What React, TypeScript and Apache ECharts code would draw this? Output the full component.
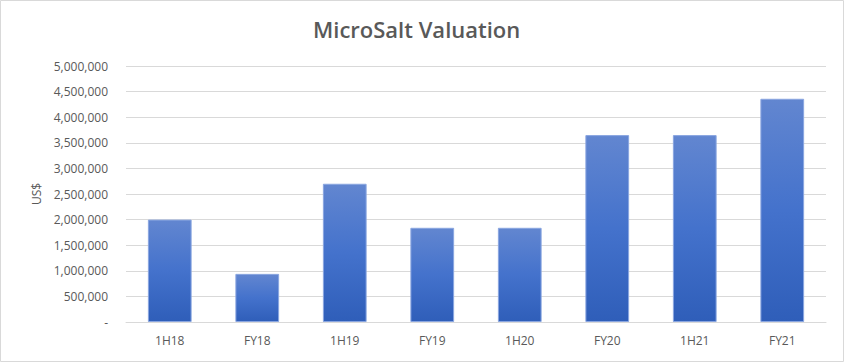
import React, { useEffect, useRef } from "react";
import * as echarts from "echarts";

const categories = ["1H18", "FY18", "1H19", "FY19", "1H20", "FY20", "1H21", "FY21"];
const valuation = [2000000, 940000, 2700000, 1840000, 1840000, 3650000, 3650000, 4360000];
const titleText = "MicroSalt Valuation";
const yAxisName = "US$";

export default function App() {
  const ref = useRef<HTMLDivElement>(null);
  useEffect(() => {
    document.body.style.margin = "0";
    const chart = echarts.init(ref.current!, null, { renderer: "svg" });
    const font = "'Open Sans', 'Liberation Sans', sans-serif";
    chart.setOption({
      animation: false,
      backgroundColor: "#ffffff",
      textStyle: { fontFamily: font },
      title: {
        text: titleText,
        left: 308,
        top: 13,
        textStyle: { fontFamily: font, fontSize: 22, fontWeight: 600, color: "#595959" },
      },
      graphic: [
        {
          type: "rect",
          shape: { x: 0.5, y: 0.5, width: 843, height: 361 },
          style: { fill: "none", stroke: "#d9d9d9", lineWidth: 1 },
          silent: true,
        },
      ],
      grid: { left: 126, right: 18, top: 66, bottom: 40 },
      xAxis: {
        type: "category",
        data: categories,
        axisLine: { lineStyle: { color: "#d9d9d9" } },
        axisTick: { show: false },
        axisLabel: { color: "#595959", fontSize: 12, margin: 12, fontFamily: font },
      },
      yAxis: {
        type: "value",
        min: 0,
        max: 5000000,
        interval: 500000,
        name: yAxisName,
        nameLocation: "middle",
        nameGap: 84,
        nameRotate: 90,
        nameTextStyle: { color: "#595959", fontSize: 12, fontFamily: font },
        axisLine: { show: false },
        axisTick: { show: false },
        axisLabel: {
          color: "#595959",
          fontSize: 12,
          margin: 18,
          fontFamily: font,
          formatter: (v: number) => (v === 0 ? "-" : v.toLocaleString("en-US")),
        },
        splitLine: { lineStyle: { color: "#d9d9d9" } },
      },
      series: [
        {
          type: "bar",
          data: valuation,
          barCategoryGap: "50%",
          itemStyle: {
            color: new echarts.graphic.LinearGradient(0, 0, 0, 1, [
              { offset: 0, color: "#6286d0" },
              { offset: 0.5, color: "#4472cc" },
              { offset: 1, color: "#2f5eb9" },
            ]),
            borderColor: "#8aa6e0",
            borderWidth: 1,
          },
        },
      ],
    });
    return () => chart.dispose();
  }, []);
  return <div ref={ref} style={{ width: 844, height: 362 }} />;
}
